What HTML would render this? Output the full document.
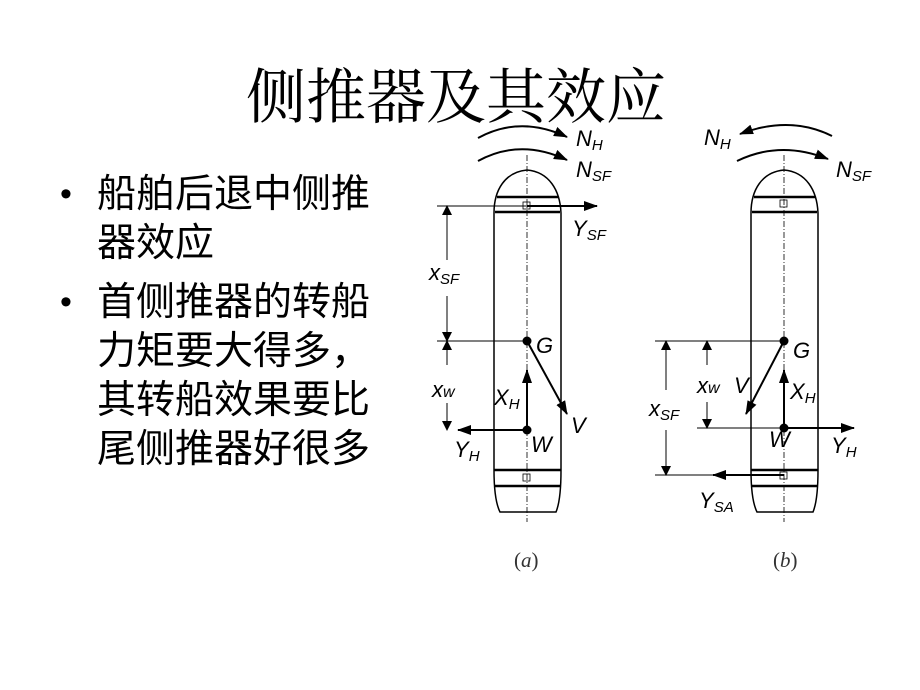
<!DOCTYPE html>
<html><head><meta charset="utf-8"><style>
html,body{margin:0;padding:0;background:#fff;}
body{width:920px;height:690px;position:relative;overflow:hidden;}
.t{position:absolute;left:246px;top:50px;font:60px "Liberation Serif","Noto Serif CJK SC",serif;white-space:nowrap;}
.d{position:absolute;left:60px;font:34px "Liberation Sans",sans-serif;}
.b{position:absolute;left:97px;font:39px "Liberation Sans","Noto Sans CJK SC",sans-serif;white-space:nowrap;line-height:49px;}
svg{position:absolute;left:0;top:0;}
svg text{font-family:"Liberation Sans",sans-serif;font-style:italic;}
</style></head><body>
<div class="t">侧推器及其效应</div>
<div class="d" style="top:175px">•</div>
<div class="d" style="top:283px">•</div>
<div class="b" style="top:170px">船舶后退中侧推<br>器效应</div>
<div class="b" style="top:278px">首侧推器的转船<br>力矩要大得多，<br>其转船效果要比<br>尾侧推器好很多</div>
<svg width="920" height="690" viewBox="0 0 920 690">
<defs><marker id="a" markerWidth="14" markerHeight="10" refX="13" refY="5" orient="auto" markerUnits="userSpaceOnUse"><path d="M0,0L14,5L0,10z" fill="#000"/></marker>
<marker id="s" markerWidth="10" markerHeight="10" refX="9" refY="5" orient="auto" markerUnits="userSpaceOnUse"><path d="M0,0L10,5L0,10z" fill="#000"/></marker></defs>
<g fill="none" stroke="#000" stroke-width="1.5">
<path d="M494,213 C494,190 505,172 527,170 C549,172 560,190 561,213 L561,470 Q561,500 556,512 L500,512 Q494,500 494,470 Z"/>
<line x1="497" y1="197" x2="558" y2="197" stroke-width="2.5"/><line x1="495" y1="212" x2="560" y2="212" stroke-width="2.5"/>
<line x1="494" y1="470" x2="561" y2="470" stroke-width="2.5"/><line x1="494" y1="486" x2="561" y2="486" stroke-width="2.5"/>
<line x1="527" y1="155" x2="527" y2="522" stroke-width="0.8" stroke-dasharray="6,2,1,2"/>
<line x1="437" y1="206" x2="595" y2="206" stroke-width="1"/>
<line x1="527" y1="206" x2="597" y2="206" stroke-width="2" marker-end="url(#a)"/>
<line x1="437" y1="341" x2="527" y2="341" stroke-width="1"/>
<line x1="447" y1="260" x2="447" y2="206" stroke-width="1" marker-end="url(#s)"/>
<line x1="447" y1="296" x2="447" y2="341" stroke-width="1" marker-end="url(#s)"/>
<line x1="447" y1="365" x2="447" y2="341" stroke-width="1" marker-end="url(#s)"/>
<line x1="447" y1="403" x2="447" y2="430" stroke-width="1" marker-end="url(#s)"/>
<line x1="527" y1="430" x2="458" y2="430" stroke-width="2" marker-end="url(#a)"/>
<line x1="527" y1="430" x2="527" y2="370" stroke-width="2" marker-end="url(#a)"/>
<line x1="527" y1="341" x2="567" y2="414" stroke-width="2" marker-end="url(#a)"/>
<path d="M478,138 Q520,115 567,137" stroke-width="2" marker-end="url(#a)"/>
<path d="M478,161 Q520,138 567,160" stroke-width="2" marker-end="url(#a)"/>
<path d="M751,213 C751,190 762,172 784,170 C806,172 817,190 818,213 L818,470 Q818,500 813,512 L757,512 Q751,500 751,470 Z"/>
<line x1="754" y1="197" x2="815" y2="197" stroke-width="2.5"/><line x1="752" y1="212" x2="817" y2="212" stroke-width="2.5"/>
<line x1="751" y1="470" x2="818" y2="470" stroke-width="2.5"/><line x1="751" y1="486" x2="818" y2="486" stroke-width="2.5"/>
<line x1="784" y1="155" x2="784" y2="522" stroke-width="0.8" stroke-dasharray="6,2,1,2"/>
<line x1="655" y1="341" x2="784" y2="341" stroke-width="1"/>
<line x1="697" y1="428" x2="784" y2="428" stroke-width="1"/>
<line x1="655" y1="475" x2="715" y2="475" stroke-width="1"/>
<line x1="784" y1="475" x2="713" y2="475" stroke-width="2" marker-end="url(#a)"/>
<line x1="666" y1="390" x2="666" y2="341" stroke-width="1" marker-end="url(#s)"/>
<line x1="666" y1="430" x2="666" y2="475" stroke-width="1" marker-end="url(#s)"/>
<line x1="707" y1="365" x2="707" y2="341" stroke-width="1" marker-end="url(#s)"/>
<line x1="707" y1="402" x2="707" y2="428" stroke-width="1" marker-end="url(#s)"/>
<line x1="784" y1="428" x2="854" y2="428" stroke-width="2" marker-end="url(#a)"/>
<line x1="784" y1="428" x2="784" y2="370" stroke-width="2" marker-end="url(#a)"/>
<line x1="784" y1="341" x2="746" y2="414" stroke-width="2" marker-end="url(#a)"/>
<path d="M832,136 Q790,115 740,134" stroke-width="2" marker-end="url(#a)"/>
<path d="M737,161 Q780,140 828,159" stroke-width="2" marker-end="url(#a)"/>
</g>
<g fill="#000"><circle cx="527" cy="341" r="4.5"/><circle cx="527" cy="430" r="4.5"/><circle cx="784" cy="341" r="4.5"/><circle cx="784" cy="428" r="4.5"/>
<rect x="523" y="202" width="7" height="7" fill="none" stroke="#000" stroke-width="0.8"/><rect x="523" y="474" width="7" height="7" fill="none" stroke="#000" stroke-width="0.8"/>
<rect x="780" y="200" width="7" height="7" fill="none" stroke="#000" stroke-width="0.8"/><rect x="780" y="472" width="7" height="7" fill="none" stroke="#000" stroke-width="0.8"/></g>
<g font-size="22" fill="#000">
<text x="576" y="146">N<tspan font-size="15" dy="4">H</tspan></text>
<text x="576" y="177">N<tspan font-size="15" dy="4">SF</tspan></text>
<text x="572" y="236">Y<tspan font-size="15" dy="4">SF</tspan></text>
<text x="429" y="280">x<tspan font-size="15" dy="4">SF</tspan></text>
<text x="536" y="353">G</text>
<text x="432" y="397">x<tspan font-size="16">w</tspan></text>
<text x="494" y="405">X<tspan font-size="15" dy="4">H</tspan></text>
<text x="571" y="433">V</text>
<text x="531" y="452">W</text>
<text x="454" y="457">Y<tspan font-size="15" dy="4">H</tspan></text>
<text x="704" y="145">N<tspan font-size="15" dy="4">H</tspan></text>
<text x="836" y="177">N<tspan font-size="15" dy="4">SF</tspan></text>
<text x="793" y="358">G</text>
<text x="697" y="393">x<tspan font-size="16">w</tspan></text>
<text x="734" y="393">V</text>
<text x="790" y="399">X<tspan font-size="15" dy="4">H</tspan></text>
<text x="649" y="416">x<tspan font-size="15" dy="4">SF</tspan></text>
<text x="769" y="447">W</text>
<text x="831" y="453">Y<tspan font-size="15" dy="4">H</tspan></text>
<text x="699" y="508">Y<tspan font-size="15" dy="4">SA</tspan></text>
</g>
<g font-size="21" fill="#333">
<text x="514" y="567" style="font-family:'Liberation Serif',serif;font-style:normal">(<tspan font-style="italic">a</tspan>)</text>
<text x="773" y="567" style="font-family:'Liberation Serif',serif;font-style:normal">(<tspan font-style="italic">b</tspan>)</text>
</g>
</svg>
</body></html>
